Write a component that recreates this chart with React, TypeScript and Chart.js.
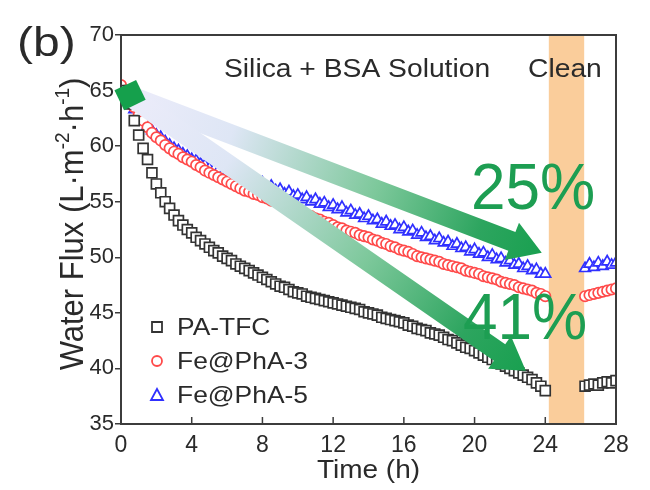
import { useEffect, useRef } from "react";
import { Chart, registerables } from "chart.js";
Chart.register(...registerables);

const FONT = '"Liberation Sans", Arial, Helvetica, sans-serif';

// Sampling times (h) during the fouling stage and after cleaning
const timesFouling: number[] = [
  0, 0.25, 0.5, 0.75, 1, 1.25, 1.5, 1.75, 2, 2.25, 2.5, 2.75, 3, 3.25, 3.5, 3.75,
  4, 4.25, 4.5, 4.75, 5, 5.25, 5.5, 5.75, 6, 6.25, 6.5, 6.75, 7, 7.25, 7.5, 7.75,
  8, 8.25, 8.5, 8.75, 9, 9.25, 9.5, 9.75, 10, 10.25, 10.5, 10.75, 11, 11.25, 11.5, 11.75,
  12, 12.25, 12.5, 12.75, 13, 13.25, 13.5, 13.75, 14, 14.25, 14.5, 14.75, 15, 15.25, 15.5, 15.75,
  16, 16.25, 16.5, 16.75, 17, 17.25, 17.5, 17.75, 18, 18.25, 18.5, 18.75, 19, 19.25, 19.5, 19.75,
  20, 20.25, 20.5, 20.75, 21, 21.25, 21.5, 21.75, 22, 22.25, 22.5, 22.75, 23, 23.25, 23.5, 23.75,
  24,
];
const timesClean: number[] = [26.25, 26.5, 26.75, 27, 27.25, 27.5, 27.75, 28];

const paTfc: number[] = [
  65.0, 64.5, 63.8, 62.3, 61.0, 59.8, 58.8, 57.6, 56.6, 55.8, 55.0, 54.4, 53.8, 53.3, 52.9, 52.5,
  52.2, 51.8, 51.5, 51.2, 50.9, 50.6, 50.4, 50.1, 49.9, 49.7, 49.4, 49.2, 49.0, 48.8, 48.6, 48.4,
  48.2, 48.0, 47.8, 47.6, 47.4, 47.3, 47.1, 46.9, 46.8, 46.7, 46.5, 46.4, 46.3, 46.2, 46.1, 46.0,
  45.9, 45.8, 45.7, 45.6, 45.5, 45.4, 45.3, 45.1, 45.0, 44.9, 44.8, 44.6, 44.5, 44.4, 44.3, 44.2,
  44.1, 43.9, 43.8, 43.6, 43.5, 43.4, 43.2, 43.1, 43.0, 42.8, 42.6, 42.5, 42.3, 42.1, 41.9, 41.8,
  41.6, 41.4, 41.2, 41.0, 40.8, 40.6, 40.4, 40.2, 40.0, 39.8, 39.6, 39.4, 39.2, 39.0, 38.7, 38.4,
  38.0,
];
const paTfcClean: number[] = [38.4, 38.5, 38.6, 38.5, 38.7, 38.8, 38.7, 38.9];

const fePhA3: number[] = [
  65.5, 65.0, 64.3, 63.5, 62.8, 62.3, 61.7, 61.2, 60.8, 60.5, 60.1, 59.8, 59.5, 59.3, 59.0, 58.8,
  58.6, 58.3, 58.1, 57.8, 57.6, 57.4, 57.2, 57.0, 56.8, 56.6, 56.4, 56.2, 56.0, 55.9, 55.7, 55.6,
  55.4, 55.3, 55.1, 55.0, 54.8, 54.6, 54.4, 54.3, 54.1, 54.0, 53.8, 53.7, 53.5, 53.4, 53.2, 53.1,
  52.9, 52.7, 52.6, 52.4, 52.3, 52.2, 52.0, 51.9, 51.8, 51.6, 51.5, 51.3, 51.2, 51.0, 50.9, 50.7,
  50.6, 50.5, 50.3, 50.1, 50.0, 49.9, 49.8, 49.7, 49.6, 49.4, 49.3, 49.2, 49.1, 49.0, 48.8, 48.7,
  48.6, 48.5, 48.3, 48.2, 48.1, 48.0, 47.8, 47.7, 47.6, 47.5, 47.3, 47.2, 47.1, 47.0, 46.8, 46.7,
  46.5,
];
const fePhA3Clean: number[] = [46.5, 46.6, 46.7, 46.8, 46.9, 47.0, 47.1, 47.2];

const fePhA5: number[] = [
  65.0, 64.6, 64.0, 63.3, 62.8, 62.3, 61.8, 61.4, 61.0, 60.8, 60.4, 60.1, 59.8, 59.6, 59.3, 59.1,
  58.8, 58.7, 58.4, 58.3, 58.0, 57.9, 57.8, 57.5, 57.6, 57.3, 57.4, 57.0, 57.1, 56.8, 56.9, 56.5,
  56.7, 56.3, 56.4, 56.0, 56.1, 55.7, 55.9, 55.5, 55.6, 55.2, 55.4, 55.0, 55.2, 54.8, 54.9, 54.5,
  54.7, 54.3, 54.5, 54.0, 54.2, 53.8, 53.9, 53.5, 53.7, 53.3, 53.4, 53.0, 53.2, 52.8, 52.9, 52.5,
  52.7, 52.3, 52.4, 52.0, 52.2, 51.8, 51.9, 51.5, 51.7, 51.3, 51.4, 51.0, 51.2, 50.8, 50.9, 50.5,
  50.7, 50.3, 50.4, 50.0, 50.2, 49.8, 49.9, 49.5, 49.7, 49.3, 49.4, 49.0, 49.2, 48.8, 48.9, 48.5,
  48.5,
];
const fePhA5Clean: number[] = [49.0, 49.4, 49.1, 49.5, 49.2, 49.6, 49.3, 49.5];

const seriesNames: string[] = ["PA-TFC", "Fe@PhA-3", "Fe@PhA-5"];
const xTicks = { min: 0, max: 28, step: 4 };
const yTicks = { min: 35, max: 70, step: 5 };
const cleanWindow: number[] = [24.2, 26.2];
const stageLabels: string[] = ["Silica + BSA Solution", "Clean"];
const reductionLabels: string[] = ["25%", "41%"];
// arrow start and targets in data coordinates [time, flux]
const arrowStart: number[] = [0.4, 64.6];
const arrowEnds: number[][] = [[23.8, 50.4], [22.9, 39.8]];

function zip(t: number[], v: number[]) {
  return t.map((x, i) => ({ x, y: v[i] }));
}

// draw horizontally stretched text (the source figure is widened)
function wideText(ctx: CanvasRenderingContext2D, s: string, x: number, y: number, sx: number, align: "left" | "center" = "left") {
  ctx.save();
  ctx.translate(x, y);
  ctx.scale(sx, 1);
  ctx.textAlign = align;
  ctx.fillText(s, 0, 0);
  ctx.restore();
}

const overlay = {
  id: "overlay",
  beforeDatasetsDraw(chart: any) {
    const { ctx, chartArea: a, scales } = chart;
    const x = scales.x;
    ctx.save();
    ctx.fillStyle = "rgb(250,205,155)";
    const x0 = x.getPixelForValue(cleanWindow[0]);
    const x1 = x.getPixelForValue(cleanWindow[1]);
    ctx.fillRect(x0, a.top, x1 - x0, a.bottom - a.top);
    ctx.restore();
  },
  afterDatasetsDraw(chart: any) {
    const { ctx, chartArea: a, scales } = chart;
    const sx = scales.x, sy = scales.y;
    ctx.save();
    // frame
    ctx.strokeStyle = "#3c3c3c";
    ctx.lineWidth = 2;
    ctx.strokeRect(a.left, a.top, a.right - a.left, a.bottom - a.top);
    // inner x ticks
    ctx.lineWidth = 1.5;
    for (let v = xTicks.min; v <= xTicks.max; v += xTicks.step) {
      const px = sx.getPixelForValue(v);
      ctx.beginPath();
      ctx.moveTo(px, a.bottom);
      ctx.lineTo(px, a.bottom - 7);
      ctx.stroke();
    }

    // arrows
    const sp = [sx.getPixelForValue(arrowStart[0]), sy.getPixelForValue(arrowStart[1])];
    arrowEnds.forEach((e) => {
      const ep = [sx.getPixelForValue(e[0]), sy.getPixelForValue(e[1])];
      const dx = ep[0] - sp[0], dy = ep[1] - sp[1];
      const len = Math.hypot(dx, dy);
      const ux = dx / len, uy = dy / len;
      const nx = -uy, ny = ux;
      const w = 10, hw = 20, hl = 32;
      const bx = ep[0] - ux * hl, by = ep[1] - uy * hl;
      const g = ctx.createLinearGradient(sp[0], sp[1], ep[0], ep[1]);
      g.addColorStop(0, "rgba(236,236,250,1)");
      g.addColorStop(0.25, "rgba(222,230,245,1)");
      g.addColorStop(0.6, "rgba(125,200,155,1)");
      g.addColorStop(0.85, "rgba(45,165,95,1)");
      g.addColorStop(1, "rgba(25,160,80,1)");
      ctx.fillStyle = g;
      ctx.beginPath();
      ctx.moveTo(sp[0] + nx * w, sp[1] + ny * w);
      ctx.lineTo(bx + nx * w, by + ny * w);
      ctx.lineTo(bx + nx * hw, by + ny * hw);
      ctx.lineTo(ep[0], ep[1]);
      ctx.lineTo(bx - nx * hw, by - ny * hw);
      ctx.lineTo(bx - nx * w, by - ny * w);
      ctx.lineTo(sp[0] - nx * w, sp[1] - ny * w);
      ctx.closePath();
      ctx.fill();
    });
    // green start square
    ctx.fillStyle = "#15a04c";
    ctx.save();
    ctx.translate(sp[0] + 2, sp[1]);
    ctx.rotate(-0.45);
    ctx.fillRect(-12, -11, 24, 22);
    ctx.restore();

    // percent labels
    ctx.fillStyle = "#1d9e52";
    ctx.font = `64px ${FONT}`;
    ctx.textBaseline = "alphabetic";
    wideText(ctx, reductionLabels[0], 471, 209, 0.97);
    wideText(ctx, reductionLabels[1], 463, 339, 0.97);

    // stage annotations
    ctx.fillStyle = "#2a2a2a";
    ctx.font = `25px ${FONT}`;
    wideText(ctx, stageLabels[0], 224, 77, 1.13);
    wideText(ctx, stageLabels[1], 528, 77, 1.13);

    // legend
    const colors = ["#333333", "#ff4a4a", "#3030ff"];
    const styles = ["rect", "circle", "triangle"];
    const ly = [327, 361, 395];
    ctx.font = `24px ${FONT}`;
    ctx.textBaseline = "middle";
    seriesNames.forEach((n, i) => {
      ctx.strokeStyle = colors[i];
      ctx.fillStyle = "#fff";
      ctx.lineWidth = 1.8;
      const cx = 157, cy = ly[i];
      ctx.beginPath();
      if (styles[i] === "rect") ctx.rect(cx - 5, cy - 5, 10, 10);
      else if (styles[i] === "circle") ctx.arc(cx, cy, 5, 0, Math.PI * 2);
      else { ctx.moveTo(cx, cy - 6); ctx.lineTo(cx + 6, cy + 5); ctx.lineTo(cx - 6, cy + 5); ctx.closePath(); }
      ctx.fill();
      ctx.stroke();
      ctx.fillStyle = "#2a2a2a";
      wideText(ctx, n, 177, cy + 1, 1.1);
    });
    ctx.restore();
  },
  afterDraw(chart: any) {
    const { ctx, chartArea: a } = chart;
    ctx.save();
    ctx.fillStyle = "#2a2a2a";
    ctx.textBaseline = "alphabetic";
    // panel label
    ctx.font = `40px ${FONT}`;
    wideText(ctx, "(b)", 17, 56, 1.2);
    // x title
    ctx.font = `25px ${FONT}`;
    wideText(ctx, "Time (h)", (a.left + a.right) / 2, 478, 1.12, "center");
    // y title with superscripts (rotated, glyphs widened horizontally)
    const parts: [string, boolean][] = [["Water Flux (L·m", false], ["-2", true], ["·h", false], ["-1", true], [")", false]];
    const big = `31px ${FONT}`, small = `19px ${FONT}`;
    let total = 0;
    parts.forEach(([s, sup]) => { ctx.font = sup ? small : big; total += ctx.measureText(s).width; });
    ctx.translate(83, 224);
    ctx.rotate(-Math.PI / 2);
    ctx.scale(1, 1.1);
    ctx.textAlign = "left";
    let px = -total / 2;
    parts.forEach(([s, sup]) => {
      ctx.font = sup ? small : big;
      ctx.fillText(s, px, sup ? -13 : 0);
      px += ctx.measureText(s).width;
    });
    ctx.restore();
  },
};

export default function App() {
  const ref = useRef<HTMLCanvasElement>(null);
  useEffect(() => {
    document.body.style.margin = "0";
    const pt = (color: string, style: string, r: number) => ({
      showLine: false,
      pointStyle: style,
      pointRadius: r,
      borderColor: color,
      backgroundColor: "#ffffff",
      pointBorderWidth: 1.7,
    });
    const chart = new Chart(ref.current!, {
      type: "scatter",
      data: {
        datasets: [
          { label: seriesNames[0], data: [...zip(timesFouling, paTfc), ...zip(timesClean, paTfcClean)], ...pt("#333333", "rect", 7) },
          { label: seriesNames[1], data: [...zip(timesFouling, fePhA3), ...zip(timesClean, fePhA3Clean)], ...pt("#ff4a4a", "circle", 5.2) },
          { label: seriesNames[2], data: [...zip(timesFouling, fePhA5), ...zip(timesClean, fePhA5Clean)], ...pt("#3030ff", "triangle", 6.2) },
        ],
      } as any,
      options: {
        responsive: false,
        animation: false,
        layout: { padding: { left: 0, right: 34, top: 35, bottom: 0 } },
        plugins: { legend: { display: false }, tooltip: { enabled: false } },
        scales: {
          x: {
            type: "linear",
            min: xTicks.min,
            max: xTicks.max,
            ticks: { stepSize: xTicks.step, color: "#2a2a2a", font: { size: 23, family: FONT }, padding: 0 },
            grid: { display: false },
            border: { display: false },
            afterFit: (s: any) => { s.height = 66; },
          },
          y: {
            min: yTicks.min,
            max: yTicks.max,
            ticks: { stepSize: yTicks.step, color: "#2a2a2a", font: { size: 22, family: FONT }, padding: 1 },
            grid: { drawOnChartArea: false, tickLength: 6, color: "#3c3c3c", lineWidth: 1.5 },
            border: { display: false },
            afterFit: (s: any) => { s.width = 121; },
          },
        },
      } as any,
      plugins: [overlay],
    });
    return () => chart.destroy();
  }, []);
  return (
    <div style={{ width: 650, height: 490, position: "relative", background: "#fff" }}>
      <canvas ref={ref} width={650} height={490} style={{ width: 650, height: 490, display: "block" }} />
    </div>
  );
}
